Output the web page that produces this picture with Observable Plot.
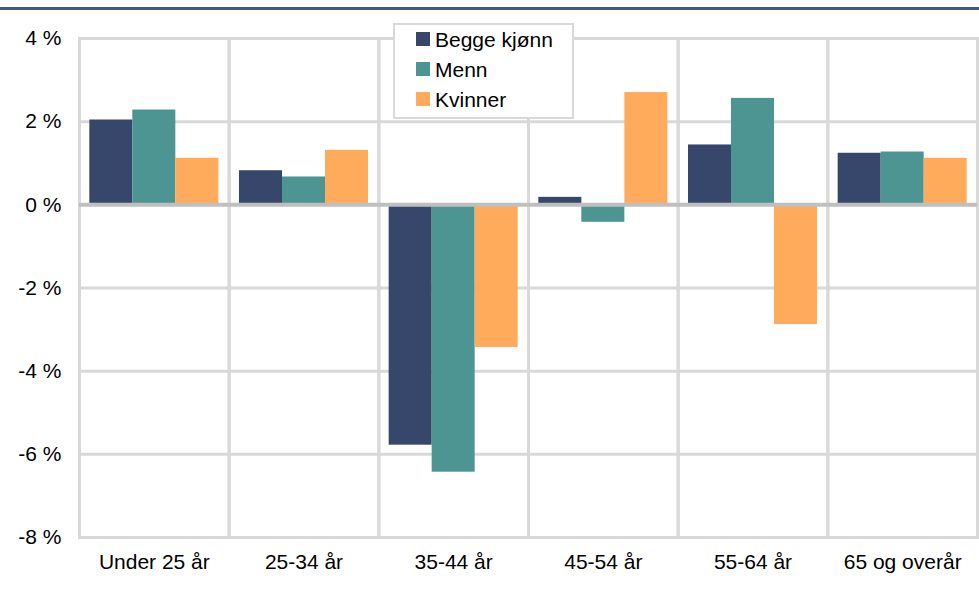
<!DOCTYPE html>
<html>
<head>
<meta charset="utf-8">
<script src="https://cdn.jsdelivr.net/npm/d3@7"></script>
<script src="https://cdn.jsdelivr.net/npm/@observablehq/plot@0.6"></script>
<style>
  html, body { margin: 0; padding: 0; background: #fff; }
  #wrap { position: relative; width: 979px; height: 589px; overflow: hidden; font-family: "Liberation Sans", Arial, sans-serif; }
  #chart { position: absolute; left: 0; top: 0; }
  #topline { position: absolute; left: 0; top: 7px; width: 979px; height: 3px; background: #44577f; }
  #legend { position: absolute; left: 393px; top: 23px; width: 181px; height: 96px; box-sizing: border-box;
            border: 2px solid #d9d9d9; background: #fff; z-index: 2; }
  .row { position: absolute; left: 21px; height: 30px; display: flex; align-items: center; font-size: 21px; line-height: 1; color: #000; }
  .sw { width: 14px; height: 14px; margin-right: 5px; }
</style>
</head>
<body>
<div id="wrap">
  <div id="chart"></div>
  <div id="topline"></div>
  <div id="legend"></div>
</div>
<script>
const categories = ["Under 25 år", "25-34 år", "35-44 år", "45-54 år", "55-64 år", "65 og overår"];
const series = ["Begge kjønn", "Menn", "Kvinner"];
const begge = [2.04, 0.82, -5.78, 0.18, 1.44, 1.24];
const menn = [2.28, 0.67, -6.43, -0.42, 2.56, 1.27];
const kvinner = [1.12, 1.31, -3.43, 2.70, -2.88, 1.12];
const yTicks = [-8, -6, -4, -2, 0, 2, 4];
const colors = ["#36476b", "#4d9592", "#ffab5b"];

const values = [begge, menn, kvinner];
const rows = categories.flatMap((c, i) => series.map((s, j) => ({cat: c, series: s, value: values[j][i]})));

const chart = Plot.plot({
  width: 979,
  height: 589,
  marginLeft: 79,
  marginRight: 2,
  marginTop: 38,
  marginBottom: 52,
  style: {fontSize: "21px", fontFamily: "'Liberation Sans', Arial, sans-serif", color: "#000", background: "transparent"},
  fx: {domain: categories, padding: 0, round: false, label: null, tickSize: 0, tickPadding: 17, axis: "bottom"},
  x: {domain: series, paddingInner: 0, paddingOuter: 0.24, round: false, axis: null},
  y: {domain: [-8, 4], ticks: yTicks, tickFormat: d => `${d} %`, tickSize: 0, tickPadding: 18, label: null},
  color: {domain: series, range: colors},
  marks: [
    Plot.frame({stroke: "#d9d9d9", strokeWidth: 3}),
    Plot.ruleY(yTicks.filter(d => d !== 0), {stroke: "#d9d9d9", strokeWidth: 3}),
    Plot.barY(rows, {fx: "cat", x: "series", y: "value", fill: "series"}),
    Plot.ruleY([0], {stroke: "#bfbfbf", strokeWidth: 4})
  ]
});
document.getElementById("chart").appendChild(chart);

const legend = document.getElementById("legend");
series.forEach((s, i) => {
  const row = document.createElement("div");
  row.className = "row";
  row.style.top = (-1 + i * 30) + "px";
  const sw = document.createElement("span");
  sw.className = "sw";
  sw.style.background = colors[i];
  const tx = document.createElement("span");
  tx.textContent = s;
  row.appendChild(sw);
  row.appendChild(tx);
  legend.appendChild(row);
});
</script>
</body>
</html>
